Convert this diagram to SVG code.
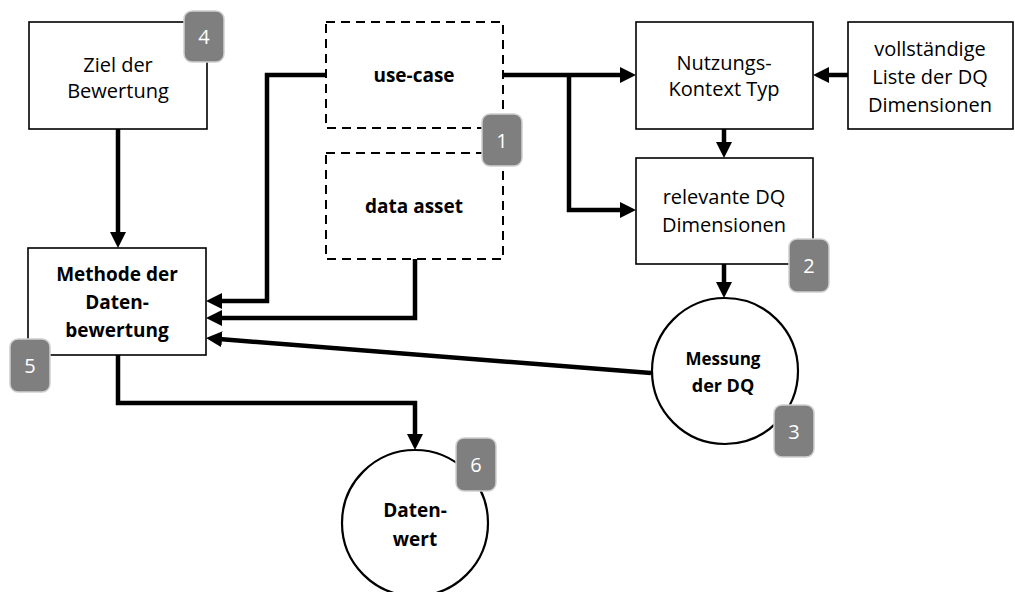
<svg xmlns="http://www.w3.org/2000/svg" width="1015" height="592" viewBox="0 0 1015 592">
<style>
.box{fill:#fff;stroke:#000;stroke-width:1.6}
.dash{fill:#fff;stroke:#000;stroke-width:2;stroke-dasharray:9 6}
.circ{fill:#fff;stroke:#000;stroke-width:2.2}
.t{font-family:"Open Sans","Liberation Sans",sans-serif;font-size:20px;fill:#000;text-anchor:middle}
.b{font-weight:bold;font-size:19px}
.badge rect{fill:#7f7f7f;stroke:#d0d0d0;stroke-width:1.5}
.badge text{font-family:"Open Sans","Liberation Sans",sans-serif;font-size:20px;fill:#fff;text-anchor:middle}
.c{fill:none;stroke:#000;stroke-width:4.5}
</style>
<defs>
<marker id="ah" markerUnits="userSpaceOnUse" markerWidth="16" markerHeight="16" refX="6" refY="8" orient="auto" viewBox="0 0 16 16">
<path d="M0,0 L16,8 L0,16 z" fill="#000"/>
</marker>
</defs>
<rect width="1015" height="592" fill="#fff"/>
<g id="connectors">
<path class="c" d="M118,129 V238" marker-end="url(#ah)"/>
<path class="c" d="M326,75 H267 V301 H216" marker-end="url(#ah)"/>
<path class="c" d="M415,259 V318 H216" marker-end="url(#ah)"/>
<path class="c" d="M651,373 L216,338.8" marker-end="url(#ah)"/>
<path class="c" d="M503,75 H626" marker-end="url(#ah)"/>
<path class="c" d="M569,75 V210 H626" marker-end="url(#ah)"/>
<path class="c" d="M848,75 H823" marker-end="url(#ah)"/>
<path class="c" d="M724,129 V148" marker-end="url(#ah)"/>
<path class="c" d="M724,264 V288" marker-end="url(#ah)"/>
<path class="c" d="M118,355 V403 H415 V440" marker-end="url(#ah)"/>
</g>
<g id="ziel">
<rect class="box" x="29" y="22" width="178" height="107"/>
<text class="t" x="118" y="72">Ziel der</text>
<text class="t" x="118" y="98">Bewertung</text>
</g>
<g id="methode">
<rect class="box" x="28" y="248" width="178" height="107"/>
<text class="t b" x="117" y="281">Methode der</text>
<text class="t b" x="117" y="309">Daten-</text>
<text class="t b" x="117" y="337">bewertung</text>
</g>
<g id="usecase">
<rect class="dash" x="326" y="22" width="177" height="106"/>
<text class="t b" x="414" y="82">use-case</text>
</g>
<g id="dataasset">
<rect class="dash" x="326" y="153" width="177" height="106"/>
<text class="t b" x="414" y="213">data asset</text>
</g>
<g id="nutzung">
<rect class="box" x="636" y="22" width="177" height="107"/>
<text class="t" x="724" y="70">Nutzungs-</text>
<text class="t" x="724" y="96">Kontext Typ</text>
</g>
<g id="vollstaendig">
<rect class="box" x="848" y="22" width="165" height="107"/>
<text class="t" x="930" y="56">vollständige</text>
<text class="t" x="930" y="84">Liste der DQ</text>
<text class="t" x="930" y="112">Dimensionen</text>
</g>
<g id="relevant">
<rect class="box" x="636" y="158" width="177" height="106"/>
<text class="t" x="724" y="204">relevante DQ</text>
<text class="t" x="724" y="232">Dimensionen</text>
</g>
<g id="messung">
<circle class="circ" cx="725" cy="371" r="73"/>
<text class="t b" x="723" y="365" style="font-size:17px">Messung</text>
<text class="t b" x="723" y="392" style="font-size:18px">der DQ</text>
</g>
<g id="datenwert">
<circle class="circ" cx="415" cy="523" r="73"/>
<text class="t b" x="415" y="517">Daten-</text>
<text class="t b" x="415" y="546">wert</text>
</g>
<g id="badges">
<g class="badge"><rect x="184" y="11" width="40" height="51" rx="8"/><text x="204" y="44">4</text></g>
<g class="badge"><rect x="482" y="114" width="40" height="52" rx="8"/><text x="502" y="148">1</text></g>
<g class="badge"><rect x="789" y="239" width="40" height="53" rx="8"/><text x="809" y="273">2</text></g>
<g class="badge"><rect x="774" y="405" width="40" height="52" rx="8"/><text x="794" y="439">3</text></g>
<g class="badge"><rect x="10" y="339" width="40" height="53" rx="8"/><text x="30" y="373">5</text></g>
<g class="badge"><rect x="456" y="438" width="40" height="53" rx="8"/><text x="476" y="472">6</text></g>
</g>
</svg>
